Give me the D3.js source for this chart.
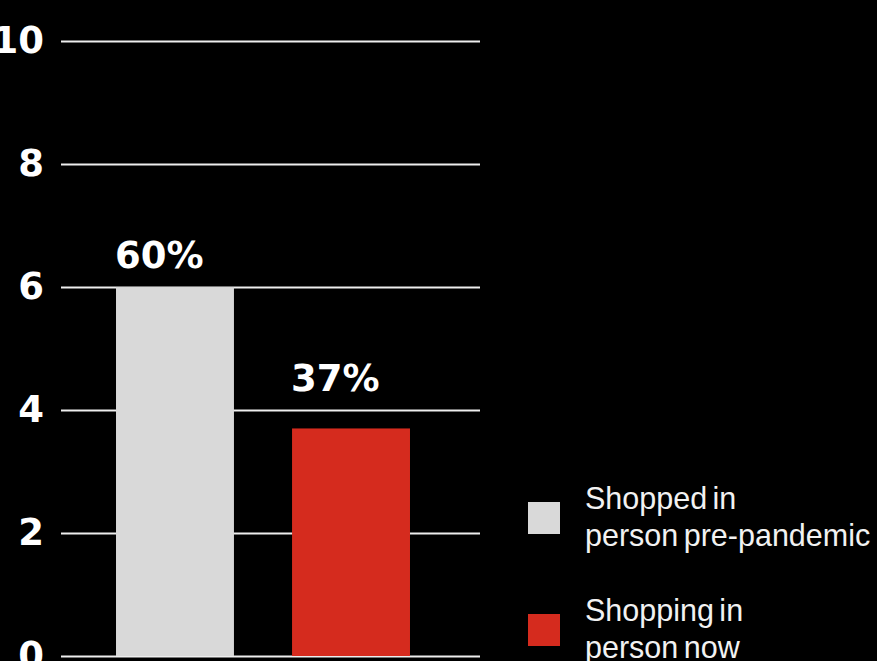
<!DOCTYPE html>
<html>
<head>
<meta charset="utf-8">
<script src="https://cdn.jsdelivr.net/npm/d3@7"></script>
<style>
  html, body { margin: 0; padding: 0; background: #000; }
  svg { display: block; }
</style>
</head>
<body>
<svg id="chart" width="877" height="661"></svg>
<script>
// Shoppers in person: before the pandemic vs now
const categories = ["Shopped in person pre-pandemic", "Shopping in person now"];
const values = [6.0, 3.7];
const valueLabels = ["60%", "37%"];
const colors = ["#d9d9d9", "#d52b1e"];
const yTicks = [0, 2, 4, 6, 8, 10];
const legendLines = [["Shopped in", "person pre-pandemic"], ["Shopping in", "person now"]];

const svg = d3.select("#chart");
svg.append("rect").attr("width", 877).attr("height", 661).attr("fill", "#000");

const plotLeft = 61, plotRight = 480;
const y = d3.scaleLinear().domain([0, 10]).range([656, 41]);
const x = d3.scaleBand().domain(categories).range([61, 465])
  .paddingInner(0.33).paddingOuter(0.3125);

// gridlines + tick labels
const axis = d3.axisLeft(y).tickValues(yTicks).tickSize(-(plotRight - plotLeft)).tickPadding(17);
const gAxis = svg.append("g").attr("transform", `translate(${plotLeft},0)`).call(axis);
gAxis.select(".domain").remove();
gAxis.selectAll(".tick line").attr("stroke", "#eeeeee").attr("stroke-width", 2);
gAxis.selectAll(".tick text")
  .attr("fill", "#ffffff")
  .attr("font-family", "'DejaVu Sans', sans-serif")
  .attr("font-weight", "bold")
  .attr("font-size", 37)
  .attr("dy", "0.32em");

// bars
svg.append("g").selectAll("rect")
  .data(categories)
  .join("rect")
  .attr("x", d => x(d))
  .attr("width", x.bandwidth())
  .attr("y", (d, i) => y(values[i]))
  .attr("height", (d, i) => y(0) - y(values[i]))
  .attr("fill", (d, i) => colors[i]);

// value labels above the bars
svg.append("g").selectAll("text")
  .data(categories)
  .join("text")
  .attr("x", d => x(d) - 1)
  .attr("y", (d, i) => y(Math.ceil(values[i])) - 19)
  .attr("fill", "#ffffff")
  .attr("font-family", "'DejaVu Sans', sans-serif")
  .attr("font-weight", "bold")
  .attr("font-size", 37)
  .text((d, i) => valueLabels[i]);

// legend
const legend = svg.append("g").attr("transform", "translate(528,502)");
const items = legend.selectAll("g")
  .data(categories)
  .join("g")
  .attr("transform", (d, i) => `translate(0,${i * 112})`);
items.append("rect")
  .attr("width", 32).attr("height", 32)
  .attr("fill", (d, i) => colors[i]);
items.append("text")
  .attr("fill", "#f2f2f2")
  .attr("font-family", "'Liberation Sans', Arial, sans-serif")
  .attr("font-size", 30.5)
  .attr("word-spacing", -3)
  .selectAll("tspan")
  .data((d, i) => legendLines[i])
  .join("tspan")
  .attr("x", 57)
  .attr("y", (d, j) => 7 + j * 37)
  .text(d => d);
</script>
</body>
</html>
